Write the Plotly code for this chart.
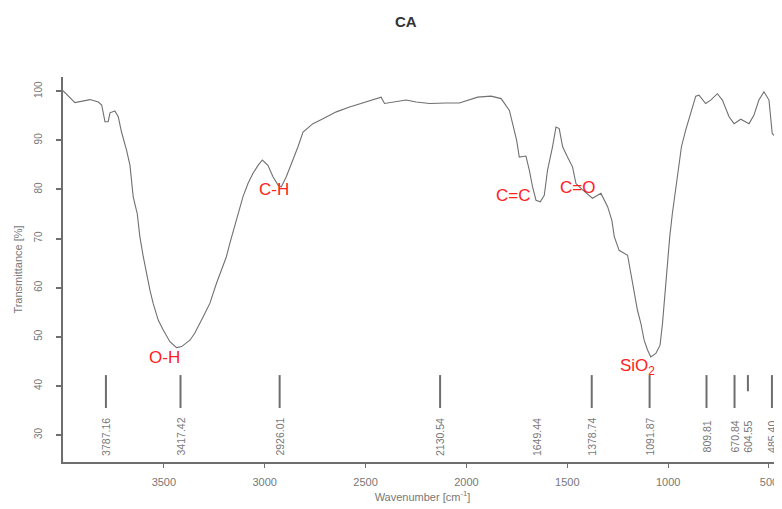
import plotly.graph_objects as go

# FTIR spectrum of CA (wavenumber in cm^-1, transmittance in %)
wavenumber = [4000, 3941, 3866, 3825, 3808, 3792, 3776, 3767, 3743, 3726, 3710, 3685, 3668,
              3652, 3632, 3619, 3602, 3586, 3569, 3553, 3528, 3503, 3470, 3437, 3412, 3371,
              3347, 3305, 3272, 3239, 3214, 3190, 3173, 3149, 3124, 3108, 3083, 3058, 3033,
              3012, 2984, 2959, 2934, 2918, 2893, 2860, 2835, 2810, 2761, 2711, 2645, 2579,
              2513, 2447, 2423, 2406, 2365, 2299, 2249, 2183, 2100, 2035, 1944, 1878, 1828,
              1787, 1771, 1751, 1738, 1705, 1688, 1672, 1655, 1634, 1614, 1598, 1573, 1556,
              1540, 1523, 1499, 1474, 1457, 1424, 1375, 1333, 1300, 1279, 1267, 1243, 1201,
              1188, 1179, 1168, 1152, 1135, 1119, 1102, 1086, 1061, 1040, 1028, 1017, 1009,
              1000, 992, 979, 962, 946, 934, 913, 888, 863, 847, 814, 789, 756, 731, 698, 673,
              640, 599, 575, 550, 525, 500, 492, 484, 467, 451, 443, 436]
transmittance = [100.1, 97.7, 98.3, 97.8, 97.2, 93.8, 93.8, 95.6, 96.0, 94.8, 91.7, 88.0, 84.9,
                 78.5, 75.1, 70.4, 66.3, 62.9, 59.5, 56.8, 53.4, 51.4, 49.0, 47.8, 48.0, 49.3,
                 50.7, 54.1, 56.8, 60.9, 63.6, 66.3, 69.0, 72.4, 75.8, 78.5, 81.2, 83.3, 84.9,
                 86.0, 84.9, 82.6, 80.9, 80.5, 82.6, 86.0, 88.7, 91.7, 93.4, 94.4, 95.8, 96.8,
                 97.7, 98.5, 98.8, 97.5, 97.8, 98.2, 97.8, 97.5, 97.6, 97.6, 98.8, 99.0, 98.5,
                 96.1, 93.4, 90.0, 86.6, 86.8, 83.9, 80.5, 77.8, 77.5, 78.8, 83.9, 88.7, 92.7,
                 92.4, 88.7, 86.6, 84.6, 81.2, 79.9, 78.2, 79.2, 76.5, 73.7, 70.4, 67.6, 66.6,
                 63.6, 61.5, 58.8, 55.4, 52.7, 49.3, 47.3, 45.9, 46.6, 48.3, 52.7, 58.1, 62.2,
                 67.3, 70.4, 75.1, 80.5, 85.3, 88.7, 92.1, 95.5, 99.0, 99.2, 97.5, 98.2, 99.5,
                 98.2, 94.8, 93.4, 94.3, 93.4, 95.1, 98.2, 99.9, 98.2, 94.8, 91.4, 90.7, 92.7,
                 98.2, 97.5]

# marked peaks
peak_wn = [3787.16, 3417.42, 2926.01, 2130.54, 1649.44, 1378.74, 1091.87, 809.81, 670.84, 604.55, 485.40]
peak_labels = ["3787.16", "3417.42", "2926.01", "2130.54", "1649.44", "1378.74",
               "1091.87", "809.81", "670.84", "604.55", "485.40"]
peak_has_line = [True, True, True, True, False, True, True, True, True, True, True]
peak_short = [False, False, False, False, False, False, False, False, False, True, False]

# band assignments
band_text = ["O-H", "C-H", "C=C", "C=O", "SiO<sub>2</sub>"]
band_wn = [3495, 2956, 1768, 1451, 1154]
band_t = [45.7, 79.9, 78.8, 80.3, 43.8]

x_ticks = [3500, 3000, 2500, 2000, 1500, 1000, 500]
y_ticks = [30, 40, 50, 60, 70, 80, 90, 100]

GRAY = "#6e6e6e"
FONT = "Liberation Sans, Arial, sans-serif"

fig = go.Figure()
fig.add_trace(go.Scatter(x=wavenumber, y=transmittance, mode="lines",
                         line=dict(color="#707070", width=1.1), hoverinfo="skip",
                         showlegend=False))

shapes = []
annotations = []
for wn, lab, has_line, short in zip(peak_wn, peak_labels, peak_has_line, peak_short):
    if has_line:
        shapes.append(dict(type="line", xref="x", yref="y", x0=wn, x1=wn,
                           y0=42.2, y1=38.9 if short else 35.5,
                           line=dict(color=GRAY, width=2)))
    annotations.append(dict(x=wn, y=29.6, xref="x", yref="y", text=lab, textangle=-90,
                            showarrow=False, font=dict(family=FONT, size=10.5, color="#777777")))

for t, wn, tv in zip(band_text, band_wn, band_t):
    annotations.append(dict(x=wn, y=tv, xref="x", yref="y", text=t, showarrow=False,
                            font=dict(family=FONT, size=17, color="#ff2020")))

# the page body adds an 8px offset, so the figure is sized to fill the rest of the window
fig.update_layout(
    width=774, height=501,
    margin=dict(l=55, r=0, t=69, b=47, autoexpand=False),
    paper_bgcolor="white", plot_bgcolor="white",
    title=dict(text="<b>CA</b>", x=0.514, xref="container", y=0.972, yanchor="middle",
               xanchor="center", font=dict(family=FONT, size=15, color="#333333")),
    font=dict(family=FONT, size=9, color="#777777"),
    shapes=shapes, annotations=annotations,
    xaxis=dict(range=[4000, 435.5], tickvals=x_ticks, ticktext=[str(v) for v in x_ticks],
               automargin=False,
               showgrid=False, zeroline=False, showline=True, linecolor=GRAY, linewidth=2,
               ticks="outside", ticklen=4, tickcolor=GRAY, tickwidth=1,
               tickfont=dict(size=11, color="#777777"), ticklabelstandoff=5,
               title=dict(text="Wavenumber [cm<sup>-1</sup>]", standoff=6,
                          font=dict(size=11, color="#777777"))),
    yaxis=dict(range=[24.5, 102.9], tickvals=y_ticks, ticktext=[str(v) for v in y_ticks],
               automargin=False,
               showgrid=False, zeroline=False, showline=True, linecolor=GRAY, linewidth=2,
               ticks="outside", ticklen=5, tickcolor=GRAY, tickwidth=2, tickangle=-90,
               tickfont=dict(size=10, color="#777777"), ticklabelstandoff=10,
               title=dict(text="Transmittance [%]", standoff=8,
                          font=dict(size=11, color="#777777"))),
)

fig.write_html("out.html")
